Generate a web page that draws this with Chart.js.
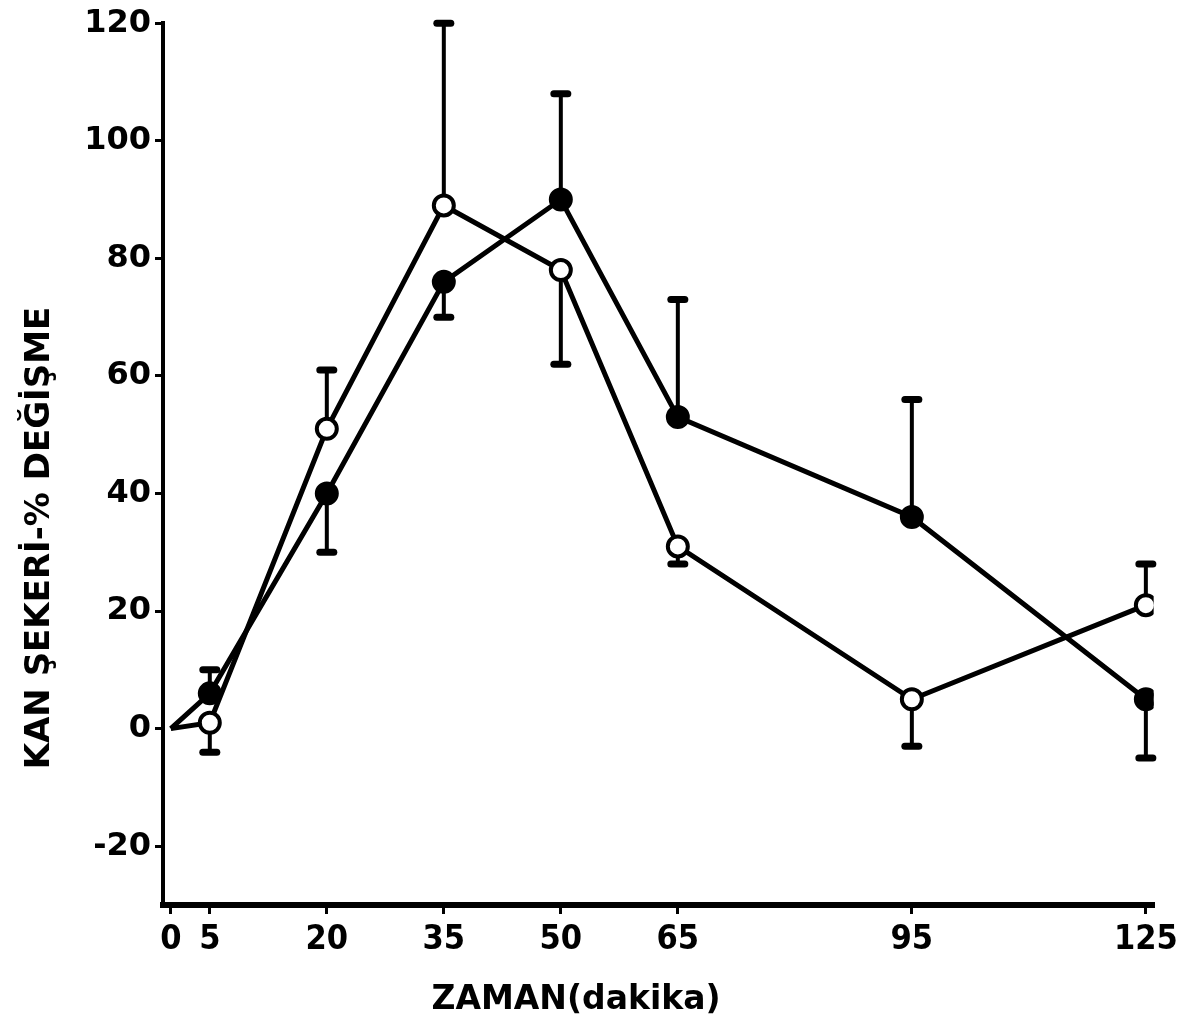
<!DOCTYPE html>
<html>
<head>
<meta charset="utf-8">
<script src="https://cdn.jsdelivr.net/npm/chart.js@4.4.0/dist/chart.umd.min.js"></script>
<style>
  body { margin: 0; background: #fff; }
  canvas { display: block; }
</style>
</head>
<body>
<canvas id="myChart" width="1184" height="1033"></canvas>
<script>
// time points (dakika)
const times = [0, 5, 20, 35, 50, 65, 95, 125];
// open circles series
const openValues = [0, 1, 51, 89, 78, 31, 5, 21];
const openErrors = [0, -5, 10, 31, -16, -3, -8, 7];   // sign = direction of the bar
// filled circles series
const filledValues = [0, 6, 40, 76, 90, 53, 36, 5];
const filledErrors = [0, 4, -10, -6, 18, 20, 20, -10];
// tick labels
const xTicks = [0, 5, 20, 35, 50, 65, 95, 125];
const yTicks = [-20, 0, 20, 40, 60, 80, 100, 120];

const pointSizes = [0, 10, 10, 10, 10, 10, 10, 10];

// error bars drawn under the markers
const errorBars = {
    id: 'errorBars',
    beforeDatasetsDraw(chart) {
        const ctx = chart.ctx;
        const xs = chart.scales.x, ys = chart.scales.y;
        ctx.save();
        ctx.strokeStyle = '#000';
        ctx.lineCap = 'round';
        chart.data.datasets.forEach(ds => {
            ds.errors.forEach((e, i) => {
                if (!e) return;
                const px = xs.getPixelForValue(times[i]);
                const y0 = ys.getPixelForValue(ds.data[i].y);
                const y1 = ys.getPixelForValue(ds.data[i].y + e);
                ctx.lineWidth = 4;
                ctx.beginPath();
                ctx.moveTo(px, y0);
                ctx.lineTo(px, y1);
                ctx.stroke();
                ctx.lineWidth = 7;
                ctx.beginPath();
                ctx.moveTo(px - 7, y1);
                ctx.lineTo(px + 7, y1);
                ctx.stroke();
            });
        });
        ctx.restore();
    }
};

// axis titles
const axisTitles = {
    id: 'axisTitles',
    afterDraw(chart) {
        const ctx = chart.ctx;
        ctx.save();
        ctx.fillStyle = '#000';
        ctx.font = 'bold 33px "DejaVu Sans"';
        ctx.textAlign = 'center';
        ctx.textBaseline = 'middle';
        ctx.fillText('ZAMAN(dakika)', 576, 1000);
        ctx.font = 'bold 34px "DejaVu Sans"';
        ctx.translate(40, 538);
        ctx.rotate(-Math.PI / 2);
        ctx.fillText('KAN ŞEKERİ-% DEĞİŞME', 0, 0);
        ctx.restore();
    }
};

const ctx = document.getElementById('myChart').getContext('2d');
const myChart = new Chart(ctx, {
    type: 'line',
    data: {
        datasets: [{
            label: 'open',
            data: times.map((t, i) => ({x: t, y: openValues[i]})),
            errors: openErrors,
            borderColor: '#000',
            borderWidth: 5,
            pointRadius: pointSizes,
            pointBackgroundColor: '#fff',
            pointBorderColor: '#000',
            pointBorderWidth: 4,
            tension: 0
        }, {
            label: 'filled',
            data: times.map((t, i) => ({x: t, y: filledValues[i]})),
            errors: filledErrors,
            borderColor: '#000',
            borderWidth: 5,
            pointRadius: pointSizes,
            pointBackgroundColor: '#000',
            pointBorderColor: '#000',
            pointBorderWidth: 4,
            tension: 0
        }]
    },
    options: {
        responsive: false,
        maintainAspectRatio: false,
        animation: false,
        layout: { padding: { top: 10, right: 27, left: 0, bottom: 0 } },
        scales: {
            x: {
                type: 'linear',
                min: -1,
                max: 126,
                afterBuildTicks: s => { s.ticks = xTicks.map(v => ({value: v})); },
                afterFit: s => { s.height = 128; },
                border: { display: true, color: '#000', width: 6 },
                grid: { drawOnChartArea: false, drawTicks: true, tickLength: 9, color: '#000', lineWidth: 3 },
                ticks: {
                    color: '#000',
                    padding: 6,
                    maxRotation: 0,
                    autoSkip: false,
                    font: { family: '"Liberation Sans Narrow", "DejaVu Sans Condensed", sans-serif', size: 34, weight: 'bold' }
                }
            },
            y: {
                min: -30,
                max: 120,
                afterBuildTicks: s => { s.ticks = yTicks.map(v => ({value: v})); },
                afterFit: s => { s.width = 163; },
                border: { display: true, color: '#000', width: 4 },
                grid: { drawOnChartArea: false, drawTicks: true, tickLength: 8, color: '#000', lineWidth: 3 },
                ticks: {
                    color: '#000',
                    padding: 4,
                    font: { family: '"DejaVu Sans"', size: 32, weight: 'bold' }
                }
            }
        },
        plugins: {
            legend: { display: false },
            tooltip: { enabled: false }
        }
    },
    plugins: [errorBars, axisTitles]
});
</script>
</body>
</html>
